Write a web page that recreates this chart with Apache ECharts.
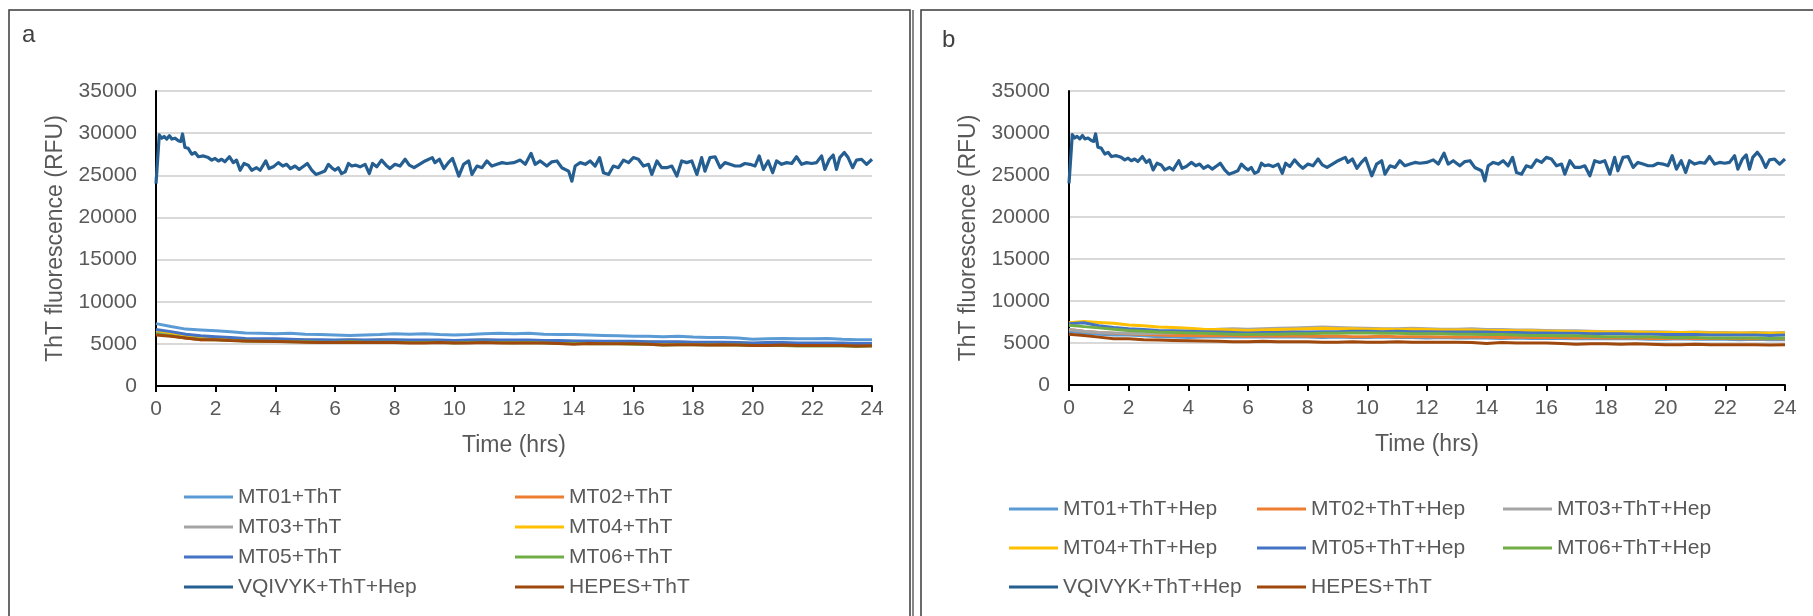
<!DOCTYPE html>
<html>
<head>
<meta charset="utf-8">
<title>ThT fluorescence time course</title>
<script src="https://cdn.jsdelivr.net/npm/echarts@6/dist/echarts.min.js"></script>
<style>
  html, body { margin: 0; padding: 0; background: #ffffff; }
  #chart { width: 1813px; height: 616px; }
</style>
</head>
<body>
<div id="chart"></div>
<script>
// ---- Time grids (hours) ----
const hours = [0,0.5,1,1.5,2,2.5,3,3.5,4,4.5,5,5.5,6,6.5,7,7.5,8,8.5,9,9.5,10,10.5,11,11.5,12,
  12.5,13,13.5,14,14.5,15,15.5,16,16.5,17,17.5,18,18.5,19,19.5,20,20.5,21,21.5,22,22.5,23,23.5,24];

const vqHours = [0,0.11,0.19,0.27,0.36,0.45,0.53,0.64,0.75,0.83,0.89,0.97,1.08,1.2,1.31,1.42,1.59,1.75,1.87,1.98,
  2.09,2.2,2.31,2.46,2.59,2.7,2.82,2.95,3.09,3.21,3.37,3.49,3.68,3.79,3.93,4.1,4.25,4.38,4.51,4.66,
  4.8,4.96,5.07,5.22,5.36,5.52,5.66,5.78,5.89,6,6.11,6.22,6.34,6.45,6.56,6.7,6.84,7.01,7.15,7.26,
  7.4,7.56,7.71,7.84,8.01,8.18,8.35,8.49,8.65,8.83,9.02,9.26,9.35,9.5,9.65,9.8,9.94,10.15,10.31,10.48,
  10.59,10.76,10.93,11.09,11.26,11.43,11.6,11.76,11.99,12.21,12.38,12.57,12.71,12.88,13.1,13.27,13.44,13.6,13.83,13.94,
  14.05,14.22,14.39,14.55,14.72,14.87,15,15.17,15.33,15.5,15.67,15.84,16,16.17,16.34,16.51,16.62,16.79,16.95,17.12,
  17.29,17.46,17.62,17.79,17.96,18.13,18.29,18.4,18.57,18.74,18.91,19.07,19.24,19.41,19.58,19.74,19.91,20.08,20.22,20.36,
  20.52,20.67,20.8,20.97,21.14,21.31,21.47,21.64,21.81,21.98,22.14,22.31,22.42,22.57,22.7,22.81,22.92,23.07,23.2,23.35,
  23.48,23.65,23.82,24];

// ---- Fluorescence readings (RFU) ----
const vqivykRFU = [24000,29800,29400,29600,29300,29700,29300,29400,29100,29000,29900,28300,28200,27500,27700,27200,27300,27100,26800,27000,
  26700,26900,26600,27200,26500,26800,25600,26400,26200,25600,25900,25600,26700,25800,26000,26500,26100,26300,25800,26100,
  25700,26100,26400,25600,25100,25300,25500,26300,25900,25600,25900,25200,25400,26400,26100,26200,26000,26300,25200,26400,
  26000,26800,26200,25800,26300,26100,26900,26200,25900,26300,26700,27100,26500,26900,25800,26500,27000,24900,26300,26700,
  25100,26100,25900,26700,26100,26300,26500,26400,26500,26800,26300,27600,26300,26700,26100,26600,26700,25900,25500,24300,
  26100,26500,26300,26700,26100,27100,25300,25100,26100,25900,26800,26500,27100,26900,26100,26300,25100,26700,25900,25900,
  26100,24900,26700,26500,26700,25100,27100,25500,27100,27200,25900,26500,26300,26100,26100,26400,26300,26100,27300,25700,
  26700,25300,26700,26300,26500,26400,27200,26300,26500,26400,26500,27300,25700,26900,27400,25700,27100,27700,27100,25900,
  26800,26900,26300,26900];

const hepesRFU = [6050,5900,5700,5500,5500,5400,5350,5300,5270,5250,5200,5150,5150,5200,5150,5150,5150,5100,5100,5150,
  5100,5100,5150,5100,5100,5100,5100,5050,4950,5050,5000,5000,5000,4950,4850,4900,4900,4850,4900,4850,
  4800,4800,4850,4800,4800,4800,4800,4750,4780];

// panel a: peptides + ThT
const mt01RFU = [7400,7050,6750,6650,6550,6450,6300,6250,6200,6250,6150,6100,6050,6000,6050,6100,6200,6150,6200,6100,
  6050,6100,6200,6250,6200,6250,6150,6100,6100,6050,6000,5950,5900,5900,5850,5900,5800,5750,5750,5700,
  5550,5600,5650,5600,5600,5650,5550,5500,5500];
const mt02RFU = [6300,6000,5700,5500,5500,5450,5350,5300,5350,5300,5250,5200,5250,5300,5250,5250,5300,5250,5200,5250,
  5200,5250,5300,5250,5200,5250,5200,5150,5100,5150,5100,5100,5050,5050,4950,5000,5000,4950,4950,5000,
  4900,4900,4950,4900,4900,4850,4900,4850,4850];
const mt03RFU = [6400,6150,5900,5750,5700,5600,5500,5450,5450,5400,5400,5350,5350,5400,5350,5400,5350,5350,5300,5350,
  5300,5350,5400,5350,5300,5350,5300,5250,5250,5200,5200,5200,5150,5150,5100,5150,5100,5050,5100,5050,
  5000,5050,5000,5000,5000,4950,5000,4950,4950];
const mt04RFU = [6600,6300,6000,5800,5700,5650,5550,5500,5500,5450,5450,5400,5400,5450,5400,5450,5400,5400,5350,5400,
  5350,5400,5450,5400,5350,5400,5350,5300,5300,5250,5250,5250,5200,5250,5150,5200,5150,5100,5150,5100,
  5050,5100,5050,5050,5050,5000,5050,5000,5000];
const mt05RFU = [6700,6450,6150,5950,5850,5750,5650,5600,5600,5550,5500,5500,5450,5500,5450,5500,5500,5450,5450,5450,
  5400,5450,5500,5450,5450,5450,5400,5400,5350,5350,5300,5300,5300,5250,5250,5250,5200,5200,5200,5150,
  5100,5150,5150,5100,5100,5100,5100,5050,5050];
const mt06RFU = [6200,5950,5700,5550,5500,5400,5350,5300,5300,5250,5250,5200,5200,5250,5200,5200,5200,5150,5150,5200,
  5100,5150,5200,5150,5100,5150,5100,5050,5050,5000,5000,5000,4950,4950,4850,4900,4900,4850,4850,4850,
  4800,4800,4800,4750,4750,4750,4750,4700,4750];

// panel b: peptides + ThT + heparin
const mt01HepRFU = [6400,6200,6050,5950,5950,5850,5750,5700,5650,5700,5700,5750,5700,5750,5700,5750,5700,5650,5700,5650,
  5650,5700,5650,5650,5600,5650,5600,5600,5600,5550,5600,5550,5550,5550,5500,5550,5500,5500,5500,5450,
  5450,5500,5450,5450,5450,5400,5450,5400,5400];
const mt02HepRFU = [6600,6400,6250,6150,6100,6000,5950,5900,5900,5850,5850,5850,5800,5850,5800,5850,5800,5800,5800,5750,
  5750,5800,5750,5750,5750,5700,5700,5700,5700,5650,5700,5650,5650,5650,5600,5650,5600,5600,5600,5550,
  5550,5600,5550,5550,5550,5500,5550,5500,5500];
const mt03HepRFU = [6600,6400,6250,6200,6150,6100,6150,6200,6300,6500,6650,6700,6650,6700,6750,6800,6850,6900,6850,6800,
  6750,6700,6700,6750,6700,6650,6650,6700,6600,6600,6550,6550,6500,6450,6450,6400,6350,6350,6300,6350,
  6300,6250,6300,6250,6250,6200,6250,6200,6250];
const mt04HepRFU = [7400,7550,7450,7350,7150,7050,6900,6850,6750,6650,6600,6550,6500,6550,6600,6650,6700,6750,6700,6700,
  6650,6650,6600,6650,6600,6550,6550,6550,6500,6500,6450,6450,6400,6400,6350,6350,6300,6300,6300,6250,
  6250,6250,6250,6200,6200,6200,6200,6150,6200];
const mt05HepRFU = [7300,7400,7050,6850,6700,6600,6500,6450,6400,6350,6300,6250,6200,6250,6250,6300,6300,6350,6350,6400,
  6400,6350,6400,6350,6350,6300,6300,6300,6300,6250,6250,6200,6200,6150,6150,6100,6100,6100,6050,6050,
  6000,6000,6000,5950,5950,5950,5950,5900,5950];
const mt06HepRFU = [7100,6950,6800,6650,6500,6400,6300,6250,6200,6150,6100,6050,6000,6050,6050,6100,6100,6150,6150,6200,
  6200,6150,6150,6100,6100,6100,6050,6050,6000,6000,5950,5900,5900,5850,5850,5800,5750,5750,5700,5700,
  5650,5650,5650,5600,5600,5600,5600,5550,5600];

// ---- Axis ticks ----
const timeTicks = { min: 0, max: 24, step: 2 };
const rfuTicks = { min: 0, max: 35000, step: 5000 };

// ---- Styling ----
const FONT = '"Liberation Sans", Arial, sans-serif';
const TEXT = '#595959';
const COLORS = {
  mt01: '#5B9BD5', mt02: '#ED7D31', mt03: '#A5A5A5', mt04: '#FFC000',
  mt05: '#4472C4', mt06: '#70AD47', vqivyk: '#255E91', hepes: '#9E480E'
};
const LOW_W = 3;
const HIGH_W = 3.2;

function pairs(xs, ys) { return xs.map((x, i) => [x, ys[i]]); }

function lineSeries(name, xs, ys, color, width, panel) {
  return {
    type: 'line', name: name,
    xAxisIndex: panel, yAxisIndex: panel,
    data: pairs(xs, ys),
    showSymbol: false, symbol: 'none',
    lineStyle: { color: color, width: width, join: 'round' },
    itemStyle: { color: color },
    emphasis: { disabled: true },
    animation: false
  };
}

function xAxisFor(panel) {
  return {
    type: 'value', gridIndex: panel,
    min: timeTicks.min, max: timeTicks.max, interval: timeTicks.step,
    axisLine: { show: true, onZero: false, lineStyle: { color: '#000', width: 2 } },
    axisTick: { show: true, length: 6, lineStyle: { color: '#000', width: 2 } },
    axisLabel: { fontSize: 21, color: TEXT, fontFamily: FONT, margin: 13 },
    splitLine: { show: false },
    name: 'Time (hrs)', nameLocation: 'middle', nameGap: 48,
    nameTextStyle: { fontSize: 23, color: TEXT, fontFamily: FONT }
  };
}

function yAxisFor(panel) {
  return {
    type: 'value', gridIndex: panel,
    min: rfuTicks.min, max: rfuTicks.max, interval: rfuTicks.step,
    axisLine: { show: true, lineStyle: { color: '#000', width: 2 } },
    axisTick: { show: false },
    axisLabel: { fontSize: 21, color: TEXT, fontFamily: FONT, margin: 19, formatter: v => String(v) },
    splitLine: { show: true, lineStyle: { color: '#D9D9D9', width: 2 } },
    name: 'ThT fluorescence (RFU)', nameLocation: 'middle', nameGap: 89,
    nameTextStyle: { fontSize: 23, color: TEXT, fontFamily: FONT }
  };
}

function legendColumn(names, left, top, gap) {
  return {
    data: names, orient: 'vertical', left: left, top: top,
    icon: 'rect', itemWidth: 49, itemHeight: 3, itemGap: gap, padding: 0,
    selectedMode: false,
    textStyle: { fontSize: 21, color: TEXT, fontFamily: FONT, lineHeight: 24 }
  };
}

const seriesA = [
  lineSeries('MT01+ThT', hours, mt01RFU, COLORS.mt01, LOW_W, 0),
  lineSeries('MT02+ThT', hours, mt02RFU, COLORS.mt02, LOW_W, 0),
  lineSeries('MT03+ThT', hours, mt03RFU, COLORS.mt03, LOW_W, 0),
  lineSeries('MT04+ThT', hours, mt04RFU, COLORS.mt04, LOW_W, 0),
  lineSeries('MT05+ThT', hours, mt05RFU, COLORS.mt05, LOW_W, 0),
  lineSeries('MT06+ThT', hours, mt06RFU, COLORS.mt06, LOW_W, 0),
  lineSeries('VQIVYK+ThT+Hep', vqHours, vqivykRFU, COLORS.vqivyk, HIGH_W, 0),
  lineSeries('HEPES+ThT', hours, hepesRFU, COLORS.hepes, LOW_W, 0)
];
const seriesB = [
  lineSeries('MT01+ThT+Hep', hours, mt01HepRFU, COLORS.mt01, LOW_W, 1),
  lineSeries('MT02+ThT+Hep', hours, mt02HepRFU, COLORS.mt02, LOW_W, 1),
  lineSeries('MT03+ThT+Hep', hours, mt03HepRFU, COLORS.mt03, LOW_W, 1),
  lineSeries('MT04+ThT+Hep', hours, mt04HepRFU, COLORS.mt04, LOW_W, 1),
  lineSeries('MT05+ThT+Hep', hours, mt05HepRFU, COLORS.mt05, LOW_W, 1),
  lineSeries('MT06+ThT+Hep', hours, mt06HepRFU, COLORS.mt06, LOW_W, 1),
  lineSeries('VQIVYK+ThT+Hep', vqHours, vqivykRFU, COLORS.vqivyk, HIGH_W, 1),
  lineSeries('HEPES+ThT', hours, hepesRFU, COLORS.hepes, LOW_W, 1)
];

const panelLetter = (txt, x, y) => ({
  type: 'text', x: x, y: y, silent: true,
  style: { text: txt, fill: '#404040', font: '24px ' + FONT,
           align: 'left', verticalAlign: 'middle', textAlign: 'left', textVerticalAlign: 'middle' }
});

const option = {
  backgroundColor: '#ffffff',
  animation: false,
  textStyle: { fontFamily: FONT },
  grid: [
    { left: 156, top: 91, width: 716, height: 295, containLabel: false, outerBoundsMode: 'none' },
    { left: 1069, top: 91, width: 716, height: 294, containLabel: false, outerBoundsMode: 'none' }
  ],
  xAxis: [xAxisFor(0), xAxisFor(1)],
  yAxis: [yAxisFor(0), yAxisFor(1)],
  legend: [
    legendColumn(['MT01+ThT', 'MT03+ThT', 'MT05+ThT', 'VQIVYK+ThT+Hep'], 184, 485, 6),
    legendColumn(['MT02+ThT', 'MT04+ThT', 'MT06+ThT', 'HEPES+ThT'], 515, 485, 6),
    legendColumn(['MT01+ThT+Hep', 'MT04+ThT+Hep', 'VQIVYK+ThT+Hep'], 1009, 497, 15),
    legendColumn(['MT02+ThT+Hep', 'MT05+ThT+Hep', 'HEPES+ThT'], 1257, 497, 15),
    legendColumn(['MT03+ThT+Hep', 'MT06+ThT+Hep'], 1503, 497, 15)
  ],
  graphic: [
    { type: 'rect', silent: true, shape: { x: 9, y: 10, width: 901, height: 640 },
      style: { fill: 'none', stroke: '#3a3a3a', lineWidth: 1.5 } },
    { type: 'line', silent: true, shape: { x1: 913, y1: 10, x2: 913, y2: 650 },
      style: { stroke: '#3a3a3a', lineWidth: 1.2 } },
    { type: 'rect', silent: true, shape: { x: 921, y: 10, width: 920, height: 640 },
      style: { fill: 'none', stroke: '#3a3a3a', lineWidth: 1.5 } },
    panelLetter('a', 22, 35),
    panelLetter('b', 942, 40)
  ],
  series: seriesA.concat(seriesB)
};

const chart = echarts.init(document.getElementById('chart'), null, { renderer: 'canvas' });
chart.setOption(option);
</script>
</body>
</html>
